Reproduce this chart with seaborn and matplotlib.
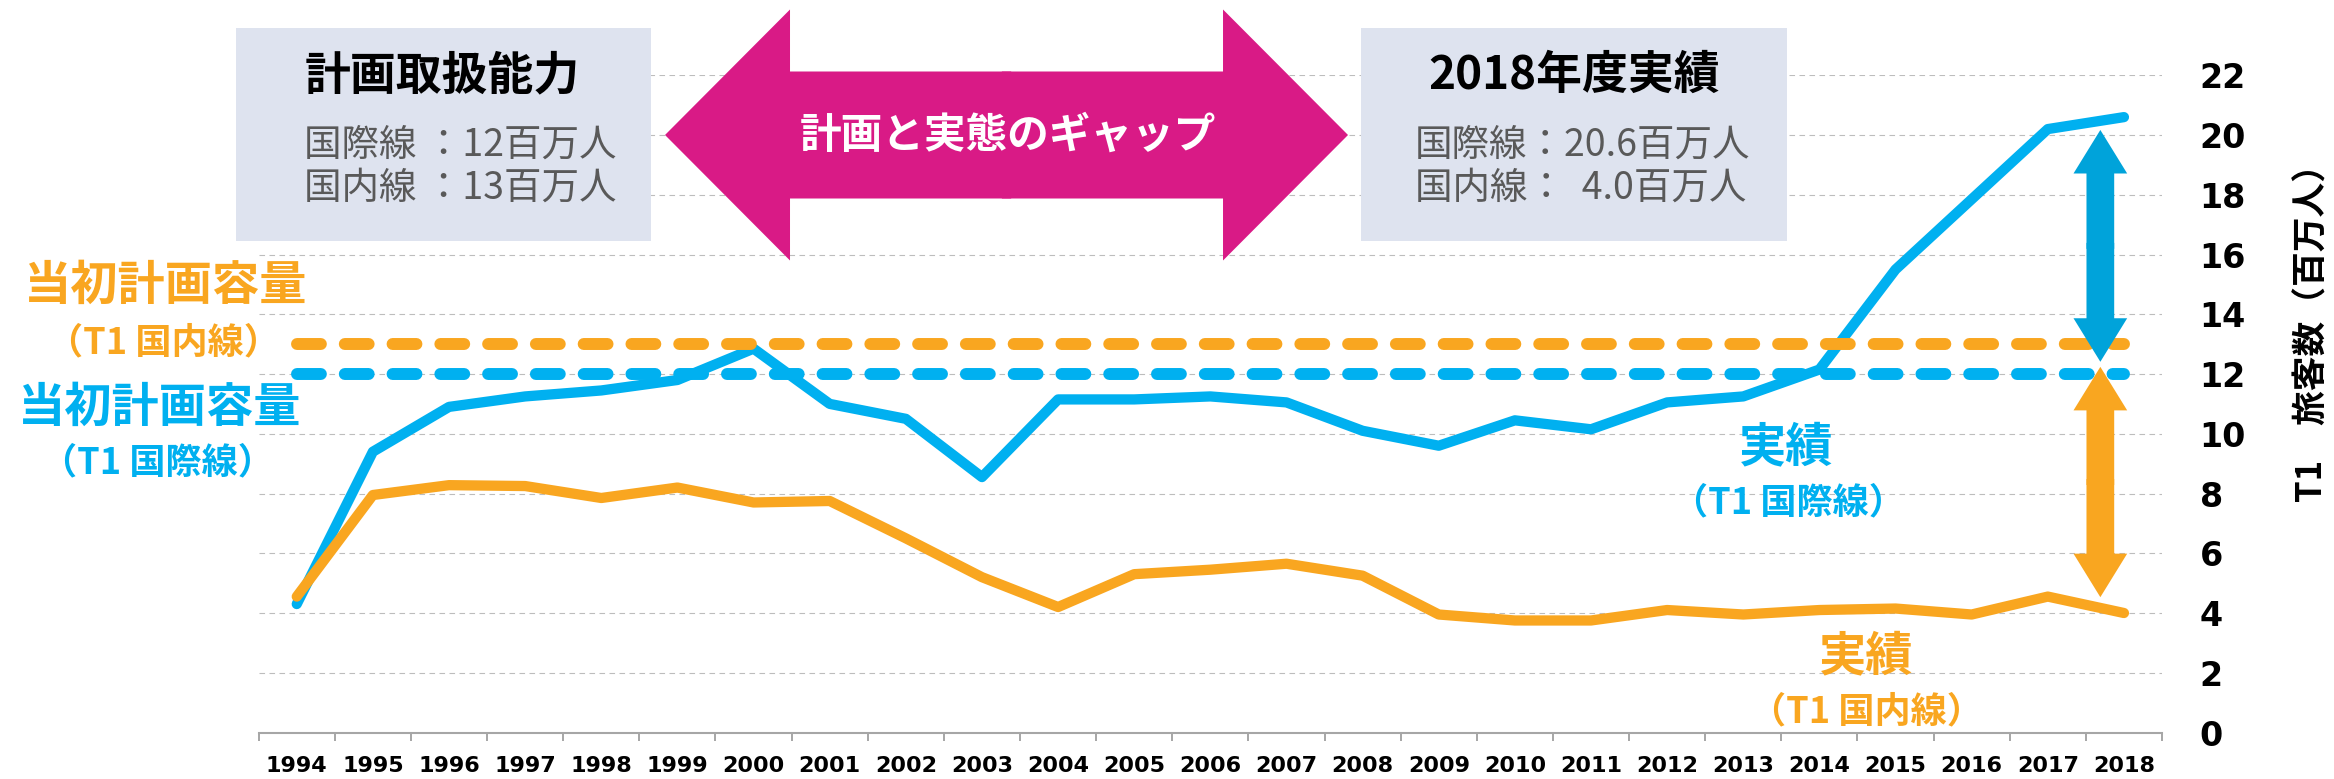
import matplotlib
matplotlib.use("Agg")
import numpy as np
import pandas as pd
import matplotlib.pyplot as plt
import seaborn as sns
from matplotlib.patches import FancyArrow, Rectangle

# --- data -------------------------------------------------------------
years = list(range(1994, 2019))
intl = [4.3, 9.4, 10.9, 11.25, 11.45, 11.8, 12.85, 11.0, 10.5, 8.55,
        11.15, 11.15, 11.25, 11.05, 10.1, 9.6, 10.45, 10.15, 11.05, 11.25,
        12.15, 15.5, 17.85, 20.2, 20.6]
dom = [4.55, 7.95, 8.28, 8.25, 7.85, 8.2, 7.7, 7.75, 6.5, 5.2,
       4.2, 5.3, 5.45, 5.65, 5.25, 3.95, 3.75, 3.75, 4.1, 3.95,
       4.1, 4.15, 3.95, 4.55, 4.0]
cap_intl = 12
cap_dom = 13
yticks = list(range(0, 23, 2))

# gap arrows (x position in years, y from / to)
gap_x = 2017.69
intl_gap = [12.41, 20.17]
dom_gap = [12.24, 4.53]

BLUE = "#00B0F0"
BLUE_ARROW = "#00A3DA"
ORANGE = "#F9A620"
MAGENTA = "#D91A86"
BOX = "#DEE3EF"
GRAY_TXT = "#595959"

df = pd.DataFrame({
    "year": years * 2,
    "value": intl + dom,
    "series": ["intl"] * len(years) + ["dom"] * len(years),
})

sns.set_theme(style="white")
plt.rcParams["font.family"] = ["Noto Sans CJK JP", "DejaVu Sans"]

fig = plt.figure(figsize=(23.34, 7.79), dpi=100)
ax = fig.add_axes([0.11084, 0.05969, 0.81547, 0.84365])

# grid first
ax.set_axisbelow(True)
ax.yaxis.grid(True, color="#BDBDBD", linewidth=0.8, linestyle=(0, (5, 4)))
ax.xaxis.grid(False)

# actual lines
sns.lineplot(data=df, x="year", y="value", hue="series",
             hue_order=["intl", "dom"], palette={"intl": BLUE, "dom": ORANGE},
             linewidth=7.4, legend=False, ax=ax,
             solid_capstyle="round", solid_joinstyle="round", zorder=3)

# planned capacity lines
ax.plot([years[0], years[-1]], [cap_intl, cap_intl], color=BLUE, lw=8.6,
        dashes=(2, 2), dash_capstyle="round", zorder=4)
ax.plot([years[0], years[-1]], [cap_dom, cap_dom], color=ORANGE, lw=8.6,
        dashes=(2, 2), dash_capstyle="round", zorder=4)

# double headed gap arrows
def gap_arrow(lo_hi, color):
    mid = np.mean(lo_hi)
    for end in lo_hi:
        d = end - mid
        start = mid - np.sign(d) * 0.1
        ax.add_patch(FancyArrow(gap_x, start, 0, end - start, width=0.364,
                                head_width=0.705, head_length=1.457,
                                length_includes_head=True, color=color,
                                lw=0, zorder=6))

gap_arrow(intl_gap, BLUE_ARROW)
gap_arrow(dom_gap, ORANGE)

# axes styling
ax.set_xlim(years[0] - 0.5, years[-1] + 0.5)
ax.set_ylim(0, 22)
ax.set_xlabel("")
ax.set_ylabel("")
for s in ["top", "left", "right"]:
    ax.spines[s].set_visible(False)
ax.spines["bottom"].set_color("#A6A6A6")
ax.spines["bottom"].set_linewidth(1.5)

ax.set_xticks(years)
ax.set_xticklabels([str(y) for y in years])
ax.set_xticks([y - 0.5 for y in years] + [years[-1] + 0.5], minor=True)
ax.tick_params(axis="x", which="major", length=0, pad=17, labelsize=16,
               labelcolor="black")
ax.tick_params(axis="x", which="minor", length=6, width=1.4,
               color="#A6A6A6", direction="out", bottom=True)
ax.yaxis.tick_right()
ax.set_yticks(yticks)
ax.tick_params(axis="y", length=0, pad=27, labelsize=24, labelcolor="black")
for lbl in ax.get_xticklabels() + ax.get_yticklabels():
    lbl.set_fontfamily("DejaVu Sans")
    lbl.set_fontweight("bold")

fig.text(0.99058, 0.5828, "T1　旅客数（百万人）", rotation=90, ha="center",
         va="center", fontsize=25, fontweight="bold", color="black")

# info boxes
for x0, w in [(0.1011, 0.1778), (0.5833, 0.1823)]:
    fig.add_artist(Rectangle((x0, 0.6906), w, 0.2734, transform=fig.transFigure,
                             facecolor=BOX, edgecolor="none", zorder=2))

fig.text(0.18959, 0.9024, "計画取扱能力", ha="center", va="center",
         fontsize=33, fontweight="bold", color="black", zorder=3)
fig.text(0.13008, 0.8139, "国際線 ：12百万人", ha="left", va="center",
         fontsize=27, color=GRAY_TXT, zorder=3)
fig.text(0.13008, 0.7587, "国内線 ：13百万人", ha="left", va="center",
         fontsize=27, color=GRAY_TXT, zorder=3)

fig.text(0.67438, 0.9024, "2018年度実績", ha="center", va="center",
         fontsize=33, fontweight="bold", color="black", zorder=3)
fig.text(0.60626, 0.8139, "国際線：20.6百万人", ha="left", va="center",
         fontsize=27, color=GRAY_TXT, zorder=3)
fig.text(0.60626, 0.7587, "国内線：  4.0百万人", ha="left", va="center",
         fontsize=27, color=GRAY_TXT, zorder=3)

# magenta gap arrow between boxes
cx, cy = 0.43124, 0.8267
for sgn in (1, -1):
    fig.add_artist(FancyArrow(cx - sgn * 0.002, cy, sgn * 0.14832, 0,
                              width=0.16303, head_width=0.32221,
                              head_length=0.05356, length_includes_head=True,
                              transform=fig.transFigure, color=MAGENTA, lw=0,
                              zorder=2))
fig.text(0.43188, 0.8254, "計画と実態のギャップ", ha="center", va="center",
         fontsize=30, fontweight="bold", color="white", zorder=3)

# series labels
fig.text(0.0709, 0.6329, "当初計画容量", ha="center", va="center",
         fontsize=34, fontweight="bold", color=ORANGE)
fig.text(0.0701, 0.5597, "（T1 国内線）", ha="center", va="center",
         fontsize=26, fontweight="bold", color=ORANGE)
fig.text(0.0683, 0.4763, "当初計画容量", ha="center", va="center",
         fontsize=34, fontweight="bold", color=BLUE)
fig.text(0.0675, 0.4056, "（T1 国際線）", ha="center", va="center",
         fontsize=26, fontweight="bold", color=BLUE)

fig.text(0.7652, 0.4262, "実績", ha="center", va="center",
         fontsize=34, fontweight="bold", color=BLUE)
fig.text(0.7661, 0.3543, "（T1 国際線）", ha="center", va="center",
         fontsize=26, fontweight="bold", color=BLUE)
fig.text(0.7995, 0.1579, "実績", ha="center", va="center",
         fontsize=34, fontweight="bold", color=ORANGE)
fig.text(0.7995, 0.0860, "（T1 国内線）", ha="center", va="center",
         fontsize=26, fontweight="bold", color=ORANGE)

fig.savefig("out.png", dpi=100)
